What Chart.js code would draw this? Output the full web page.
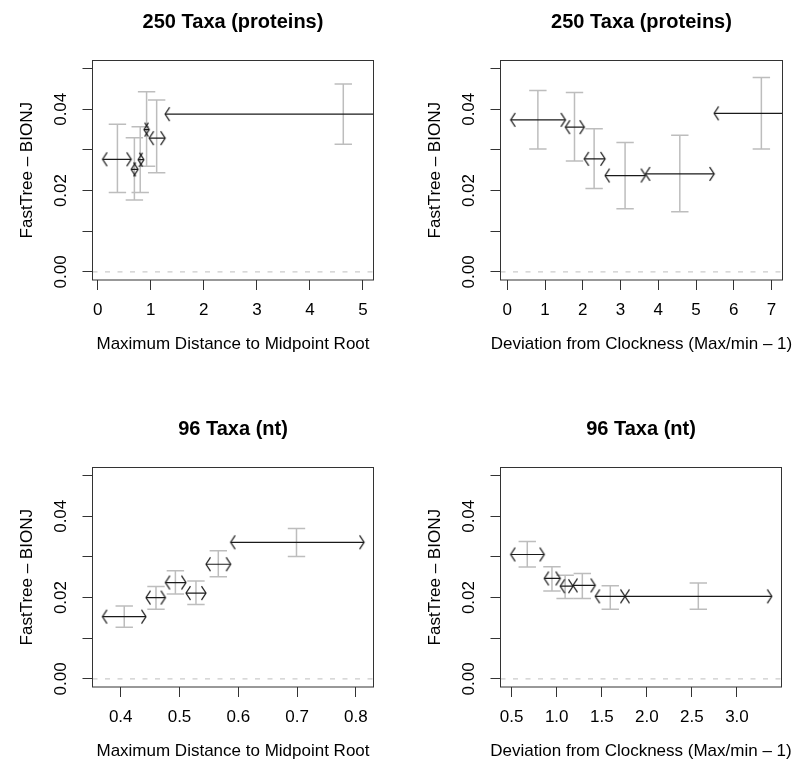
<!DOCTYPE html>
<html>
<head>
<meta charset="utf-8">
<script src="https://cdn.jsdelivr.net/npm/chart.js@4.4.0/dist/chart.umd.min.js"></script>
<style>
  body { margin: 0; background: #fff; }
  #page { position: relative; width: 793px; height: 772px; overflow: hidden; }
  canvas { position: absolute; }
</style>
</head>
<body>
<div id="page">
  <canvas id="p1" width="396" height="360" style="left:0px;top:0px"></canvas>
  <canvas id="p2" width="385" height="360" style="left:408px;top:0px"></canvas>
  <canvas id="p3" width="396" height="360" style="left:0px;top:407px"></canvas>
  <canvas id="p4" width="385" height="360" style="left:408px;top:407px"></canvas>
</div>
<script>
// ---- data ----
const yTitle = 'FastTree \u2013 BIONJ';
const yTicks = [0, 0.01, 0.02, 0.03, 0.04, 0.05];
const yTickLabels = ['0.00', '', '0.02', '', '0.04', ''];
const yLimits = [-0.002, 0.052];

// 250 taxa, max distance to midpoint root
const p1BinLo = [0.09, 0.63, 0.76, 0.87, 0.97, 1.27];
const p1BinHi = [0.63, 0.76, 0.87, 0.97, 1.27, 5.6];
const p1Mean  = [0.0277, 0.0252, 0.0276, 0.0350, 0.0329, 0.0388];
const p1BarX  = [0.37, 0.69, 0.80, 0.92, 1.11, 4.63];
const p1BarLo = [0.0195, 0.0177, 0.0195, 0.0260, 0.0244, 0.0314];
const p1BarHi = [0.0363, 0.0330, 0.0357, 0.0443, 0.0423, 0.0462];
const p1XTicks = [0, 1, 2, 3, 4, 5];
const p1XTickLabels = ['0', '1', '2', '3', '4', '5'];

// 250 taxa, deviation from clockness
const p2BinLo = [0.09, 1.54, 2.04, 2.59, 3.66, 5.48];
const p2BinHi = [1.54, 2.04, 2.59, 3.66, 5.48, 8.5];
const p2Mean  = [0.0374, 0.0356, 0.0278, 0.0237, 0.0241, 0.0390];
const p2BarX  = [0.81, 1.78, 2.30, 3.12, 4.57, 6.73];
const p2BarLo = [0.0302, 0.0273, 0.0205, 0.0155, 0.0148, 0.0302];
const p2BarHi = [0.0446, 0.0441, 0.0352, 0.0318, 0.0336, 0.0478];
const p2XTicks = [0, 1, 2, 3, 4, 5, 6, 7];
const p2XTickLabels = ['0', '1', '2', '3', '4', '5', '6', '7'];

// 96 taxa, max distance to midpoint root
const p3BinLo = [0.369, 0.443, 0.476, 0.511, 0.545, 0.587];
const p3BinHi = [0.443, 0.476, 0.511, 0.545, 0.587, 0.814];
const p3Mean  = [0.0153, 0.0200, 0.0237, 0.0211, 0.0282, 0.0336];
const p3BarX  = [0.406, 0.460, 0.493, 0.528, 0.566, 0.699];
const p3BarLo = [0.0127, 0.0171, 0.0209, 0.0183, 0.0251, 0.0301];
const p3BarHi = [0.0179, 0.0227, 0.0266, 0.0241, 0.0315, 0.0370];
const p3XTicks = [0.4, 0.5, 0.6, 0.7, 0.8];
const p3XTickLabels = ['0.4', '0.5', '0.6', '0.7', '0.8'];

// 96 taxa, deviation from clockness
const p4BinLo = [0.489, 0.862, 1.039, 1.18, 1.428, 1.757];
const p4BinHi = [0.862, 1.039, 1.18, 1.428, 1.757, 3.386];
const p4Mean  = [0.0306, 0.0247, 0.0228, 0.0230, 0.0203, 0.0203];
const p4BarX  = [0.673, 0.947, 1.093, 1.284, 1.594, 2.571];
const p4BarLo = [0.0275, 0.0216, 0.0198, 0.0198, 0.0171, 0.0171];
const p4BarHi = [0.0338, 0.0276, 0.0255, 0.0259, 0.0229, 0.0236];
const p4XTicks = [0.5, 1.0, 1.5, 2.0, 2.5, 3.0];
const p4XTickLabels = ['0.5', '1.0', '1.5', '2.0', '2.5', '3.0'];

// ---- drawing ----
Chart.defaults.font.family = '"Liberation Sans", Arial, Helvetica, sans-serif';
Chart.defaults.color = '#000';

const arrowColor = '#1a1a1a';
const barColor = '#bdbdbd';
const tickColor = '#333';
const fontFam = '"Liberation Sans", Arial, sans-serif';

// arrow heads as point images, tip at the image centre
function chevron(dir) {
  const c = document.createElement('canvas');
  c.width = 20; c.height = 20;
  const g = c.getContext('2d');
  g.strokeStyle = arrowColor;
  g.lineWidth = 1.2;
  g.beginPath();
  g.moveTo(10 + dir * 4.5, 10 - 6.8);
  g.lineTo(10, 10);
  g.lineTo(10 + dir * 4.5, 10 + 6.8);
  g.stroke();
  return c;
}
const headL = chevron(1), headR = chevron(-1);

// R-style frame: box, turned y labels, main title, x label (no squeezing)
const rFrame = {
  id: 'rFrame',
  afterDraw(chart, args, opts) {
    const {ctx, chartArea: a} = chart;
    const y = chart.scales.y;
    const cx = (a.left + a.right) / 2;
    ctx.save();
    ctx.strokeStyle = '#333';
    ctx.lineWidth = 1;
    ctx.strokeRect(a.left, a.top, a.right - a.left, a.bottom - a.top);
    ctx.fillStyle = '#000';
    ctx.font = '17px ' + fontFam;
    ctx.textAlign = 'center';
    ctx.textBaseline = 'middle';
    y.ticks.forEach((t, i) => {
      const lab = yTickLabels[i];
      if (!lab) return;
      ctx.save();
      ctx.translate(a.left - 31.5, y.getPixelForValue(t.value));
      ctx.rotate(-Math.PI / 2);
      ctx.fillText(lab, 0, 0);
      ctx.restore();
    });
    ctx.fillText(opts.xTitle, cx, a.bottom + 64);
    ctx.font = 'bold 20px ' + fontFam;
    ctx.textBaseline = 'alphabetic';
    ctx.fillText(opts.title, cx, a.top - 32.8);
    ctx.restore();
  }
};

function makePanel(id, p) {
  const datasets = [];
  p.lo.forEach((lo, i) => {
    datasets.push({
      data: [{x: lo, y: p.mean[i]}, {x: p.hi[i], y: p.mean[i]}],
      showLine: true,
      borderColor: arrowColor,
      borderWidth: 1.2,
      pointStyle: c => c.dataIndex === 0 ? headL : headR,
      pointRadius: 5,
      order: 0
    });
    datasets.push({
      data: [{x: p.barX[i], y: p.barLo[i]}, {x: p.barX[i], y: p.barHi[i]}],
      showLine: true,
      borderColor: barColor,
      borderWidth: 1.5,
      pointStyle: 'line',
      pointRadius: 8.7,
      pointBorderWidth: 1.5,
      pointBorderColor: barColor,
      pointBackgroundColor: barColor,
      order: 1
    });
  });
  // dashed reference line at zero
  datasets.push({
    data: [{x: p.xLim[0], y: 0}, {x: p.xLim[1], y: 0}],
    showLine: true,
    borderColor: '#cccccc',
    borderWidth: 1.3,
    borderDash: [5, 7.5],
    pointRadius: 0,
    order: 2
  });

  new Chart(document.getElementById(id), {
    type: 'scatter',
    data: {datasets},
    options: {
      responsive: false,
      animation: false,
      events: [],
      layout: {padding: {left: 0, right: p.padRight, top: 60.5, bottom: 0}},
      plugins: {
        legend: {display: false},
        tooltip: {enabled: false},
        rFrame: {title: p.title, xTitle: p.xTitle}
      },
      scales: {
        x: {
          type: 'linear',
          min: p.xLim[0], max: p.xLim[1],
          afterBuildTicks: s => { s.ticks = p.xTicks.map(v => ({value: v})); },
          afterFit: s => { s.height = 80; },
          ticks: {
            autoSkip: false, maxRotation: 0, padding: 10.5,
            color: '#000', font: {size: 17},
            callback: (v, i) => p.xTickLabels[i]
          },
          grid: {drawOnChartArea: false, drawTicks: true, tickLength: 10, color: tickColor, lineWidth: 1},
          border: {display: false},
          title: {display: false}
        },
        y: {
          type: 'linear',
          min: yLimits[0], max: yLimits[1],
          afterBuildTicks: s => { s.ticks = yTicks.map(v => ({value: v})); },
          afterFit: s => { s.width = 92.5; },
          ticks: {display: false},
          grid: {drawOnChartArea: false, drawTicks: true, tickLength: 10, color: tickColor, lineWidth: 1},
          border: {display: false},
          title: {display: true, text: yTitle, color: '#000', font: {size: 17}, padding: {top: 17.3, bottom: 0}}
        }
      }
    },
    plugins: [rFrame]
  });
}

makePanel('p1', {
  title: '250 Taxa (proteins)', xTitle: 'Maximum Distance to Midpoint Root',
  lo: p1BinLo, hi: p1BinHi, mean: p1Mean, barX: p1BarX, barLo: p1BarLo, barHi: p1BarHi,
  xTicks: p1XTicks, xTickLabels: p1XTickLabels, xLim: [-0.1, 5.2], padRight: 22.5
});
makePanel('p2', {
  title: '250 Taxa (proteins)', xTitle: 'Deviation from Clockness (Max/min \u2013 1)',
  lo: p2BinLo, hi: p2BinHi, mean: p2Mean, barX: p2BarX, barLo: p2BarLo, barHi: p2BarHi,
  xTicks: p2XTicks, xTickLabels: p2XTickLabels, xLim: [-0.18, 7.29], padRight: 10.5
});
makePanel('p3', {
  title: '96 Taxa (nt)', xTitle: 'Maximum Distance to Midpoint Root',
  lo: p3BinLo, hi: p3BinHi, mean: p3Mean, barX: p3BarX, barLo: p3BarLo, barHi: p3BarHi,
  xTicks: p3XTicks, xTickLabels: p3XTickLabels, xLim: [0.352, 0.830], padRight: 22.5
});
makePanel('p4', {
  title: '96 Taxa (nt)', xTitle: 'Deviation from Clockness (Max/min \u2013 1)',
  lo: p4BinLo, hi: p4BinHi, mean: p4Mean, barX: p4BarX, barLo: p4BarLo, barHi: p4BarHi,
  xTicks: p4XTicks, xTickLabels: p4XTickLabels, xLim: [0.376, 3.494], padRight: 11.5
});
</script>
</body>
</html>
